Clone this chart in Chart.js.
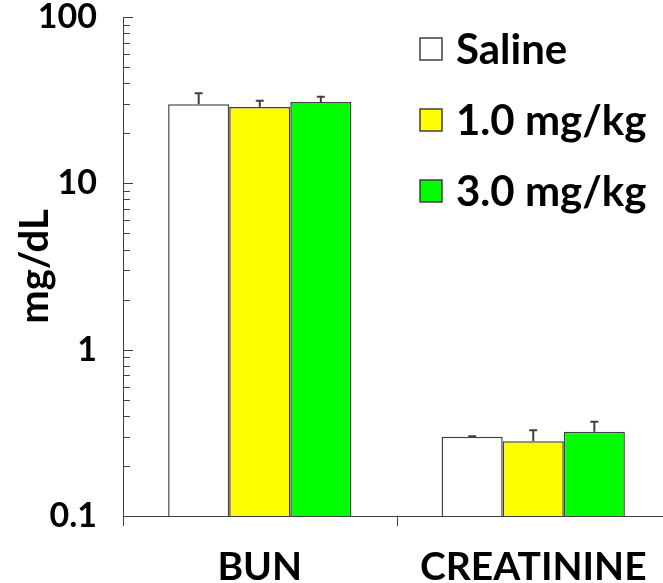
<!DOCTYPE html>
<html>
<head>
<meta charset="utf-8">
<style>
  html, body { margin: 0; padding: 0; background: #fff; overflow: hidden; }
  #chart { display: block; }
</style>
<script src="https://cdn.jsdelivr.net/npm/chart.js@4.4.1/dist/chart.umd.min.js"></script>
</head>
<body>
<canvas id="chart" width="670" height="583"></canvas>
<script>
(function () {
    "use strict";

    var categories = ["BUN", "CREATININE"];
    var seriesNames = ["Saline", "1.0 mg/kg", "3.0 mg/kg"];
    var salineValues = [29.9, 0.30];
    var salineErrors = [4.9, 0.002];
    var lowDoseValues = [28.8, 0.281];
    var lowDoseErrors = [2.6, 0.047];
    var highDoseValues = [30.8, 0.321];
    var highDoseErrors = [2.4, 0.048];
    var yTickLabels = [0.1, 1, 10, 100];

    var FONT = "Lato, Calibri, 'Open Sans', sans-serif";
    var INK = "#404040";

    function makeSet(i, values, errors, fill) {
        return {
            label: seriesNames[i],
            data: values,
            errors: errors,
            backgroundColor: fill,
            borderColor: INK,
            borderWidth: 1.5,
            categoryPercentage: 0.67,
            barPercentage: 1.0
        };
    }

    // inside ticks, axis tails, error bars and the legend
    var extras = {
        id: "extras",
        afterDatasetsDraw: function (chart) {
            var ctx = chart.ctx;
            var y = chart.scales.y;
            ctx.save();
            ctx.strokeStyle = INK;
            ctx.lineWidth = 2;
            chart.data.datasets.forEach(function (ds, di) {
                var meta = chart.getDatasetMeta(di);
                meta.data.forEach(function (bar, i) {
                    var top = y.getPixelForValue(ds.data[i]);
                    var end = y.getPixelForValue(ds.data[i] + ds.errors[i]);
                    ctx.beginPath();
                    ctx.moveTo(bar.x, top);
                    ctx.lineTo(bar.x, end);
                    ctx.moveTo(bar.x - 4, end);
                    ctx.lineTo(bar.x + 4, end);
                    ctx.stroke();
                });
            });
            ctx.restore();
        },
        afterDraw: function (chart) {
            var ctx = chart.ctx;
            var y = chart.scales.y;
            var x = chart.scales.x;
            var area = chart.chartArea;
            ctx.save();
            ctx.strokeStyle = INK;
            ctx.lineWidth = 1;
            ctx.beginPath();
            for (var k = -1; k < 2; k++) {
                for (var m = 1; m <= 10; m++) {
                    var v = m * Math.pow(10, k);
                    var py = Math.round(y.getPixelForValue(v)) + 0.5;
                    var len = (m === 1 || m === 10) ? 10 : 7;
                    ctx.moveTo(area.left, py);
                    ctx.lineTo(area.left + len, py);
                }
            }
            // tail of the y axis and category boundary ticks
            ctx.moveTo(area.left + 0.5, area.bottom);
            ctx.lineTo(area.left + 0.5, area.bottom + 10);
            var mid = Math.round((x.getPixelForTick(0) + x.getPixelForTick(1)) / 2) + 0.5;
            ctx.moveTo(mid, area.bottom);
            ctx.lineTo(mid, area.bottom + 10);
            ctx.stroke();

            // legend
            var lx = 420, ly = 49, gap = 71, box = 22;
            ctx.font = "bold 42px " + FONT;
            ctx.textBaseline = "middle";
            ctx.textAlign = "left";
            chart.data.datasets.forEach(function (ds, i) {
                var cy = ly + i * gap;
                ctx.fillStyle = ds.backgroundColor;
                ctx.fillRect(lx, cy - box / 2, box, box);
                ctx.lineWidth = 1.5;
                ctx.strokeStyle = INK;
                ctx.strokeRect(lx, cy - box / 2, box, box);
                ctx.fillStyle = "#000";
                ctx.fillText(ds.label, lx + 36, cy + 1);
            });
            ctx.restore();
        }
    };

    new Chart(document.getElementById("chart"), {
        type: "bar",
        data: {
            labels: categories,
            datasets: [
                makeSet(0, salineValues, salineErrors, "#ffffff"),
                makeSet(1, lowDoseValues, lowDoseErrors, "#ffff00"),
                makeSet(2, highDoseValues, highDoseErrors, "#00ff00")
            ]
        },
        options: {
            responsive: false,
            animation: false,
            devicePixelRatio: 1,
            layout: { padding: { top: 17, left: 0, right: 0, bottom: 0 } },
            plugins: {
                legend: { display: false },
                tooltip: { enabled: false }
            },
            scales: {
                x: {
                    grid: { display: false },
                    border: { display: true, color: INK, width: 1 },
                    ticks: {
                        color: "#000",
                        padding: 20,
                        maxRotation: 0,
                        font: { family: FONT, size: 39, weight: "bold" }
                    },
                    afterFit: function (s) {
                        s.height = 67;
                        s.paddingLeft = 0;
                        s.paddingRight = 0;
                    }
                },
                y: {
                    type: "logarithmic",
                    min: 0.1,
                    max: 100,
                    grid: { display: false },
                    border: { display: true, color: INK, width: 1 },
                    afterBuildTicks: function (s) {
                        s.ticks = yTickLabels.map(function (v) { return { value: v }; });
                    },
                    ticks: {
                        color: "#000",
                        padding: 18,
                        font: { family: FONT, size: 34, weight: "bold" },
                        callback: function (v) { return String(v); }
                    },
                    title: {
                        display: true,
                        text: "mg/dL",
                        color: "#000",
                        padding: { top: 11, bottom: 0 },
                        font: { family: FONT, size: 40, weight: "bold" }
                    },
                    afterFit: function (s) {
                        s.width = 123;
                        s.paddingTop = 0;
                        s.paddingBottom = 0;
                    }
                }
            }
        },
        plugins: [extras]
    });
})();
</script>
</body>
</html>
